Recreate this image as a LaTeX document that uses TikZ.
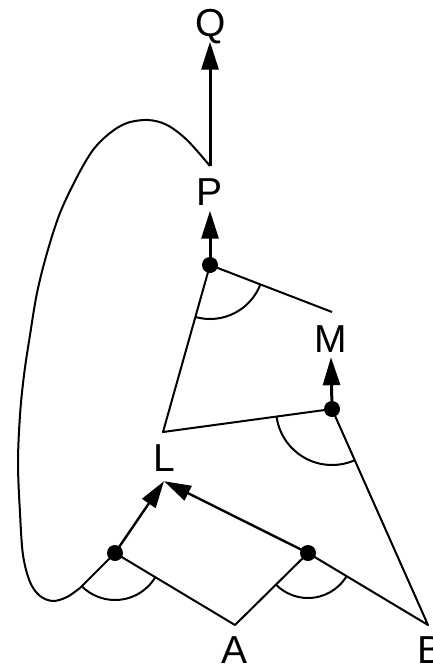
\documentclass[tikz,border=0pt]{standalone}
\usepackage{fontspec}
\setmainfont{Liberation Sans}
\usetikzlibrary{arrows.meta}
\begin{document}
\begin{tikzpicture}[x=1pt,y=-1pt,
  ln/.style={line width=2pt, line join=round},
  arr/.style={line width=3pt, -{Triangle[length=28pt,width=17pt]}},
  arrs/.style={line width=2.4pt, -{Triangle[length=27pt,width=16pt]}},
  dot/.style={circle, fill=black, minimum size=16pt, inner sep=0pt},
  lab/.style={font=\fontsize{39}{40}\selectfont, text height=28pt, text depth=0pt, inner xsep=2pt, inner ysep=5pt}]
\useasboundingbox (0,0) rectangle (433,669);
% labels
\node[lab] (Q) at (211,22.5) {Q};
\node[lab] (P) at (210,191.5) {P};
\node[lab] (M) at (331,338) {M};
\node[lab, inner ysep=10pt] (L) at (164,457) {L};
\node[lab] (A) at (235,649) {A};
\node[lab] (B) at (431,649) {B};
% dots
\node[dot] (pd) at (210,265) {};
\node[dot] (md) at (332,409) {};
\node[dot] (ld) at (115,553) {};
\node[dot] (rd) at (308,553) {};
% corners
\coordinate (pj) at (210,166);
\coordinate (cM) at (332,312);
\coordinate (cL) at (163,432);
\coordinate (cA) at (235,625);
\coordinate (cB) at (428,625);
\coordinate (cj) at (80,588);
% arrows
\draw[arr] (pj) -- (pj |- Q.south);
\draw[arr] (pd.center) -- (P.south);
\draw[arr] (md.center) -- (M.south);
\draw[arrs] (ld.center) -- (L.south);
\draw[arrs] (rd.center) -- (L.south);
% lines
\draw[ln] (cM) -- (pd.center) -- (cL) -- (md.center) -- (cB) -- (rd.center) -- (cA) -- (ld.center) -- (cj);
% curve
\draw[ln] plot[smooth, tension=0.55] coordinates {(pj) (187,140) (167,125) (148,120) (127,123) (110,133) (93,150) (77,177) (60,213) (47,253) (37,293) (30,335) (24,375) (20,415) (18,463) (20,513) (23,555) (30,582) (40,596) (53,601) (67,597) (cj)};
% angle arcs
\draw[ln] ([shift={(21:54)}]pd.center) arc[start angle=21, end angle=105.7, radius=54];
\draw[ln] ([shift={(66:56)}]md.center) arc[start angle=66, end angle=172, radius=56];
\draw[ln] ([shift={(31:47)}]ld.center) arc[start angle=31, end angle=135, radius=47];
\draw[ln] ([shift={(31:45)}]rd.center) arc[start angle=31, end angle=135, radius=45];
\end{tikzpicture}
\end{document}
